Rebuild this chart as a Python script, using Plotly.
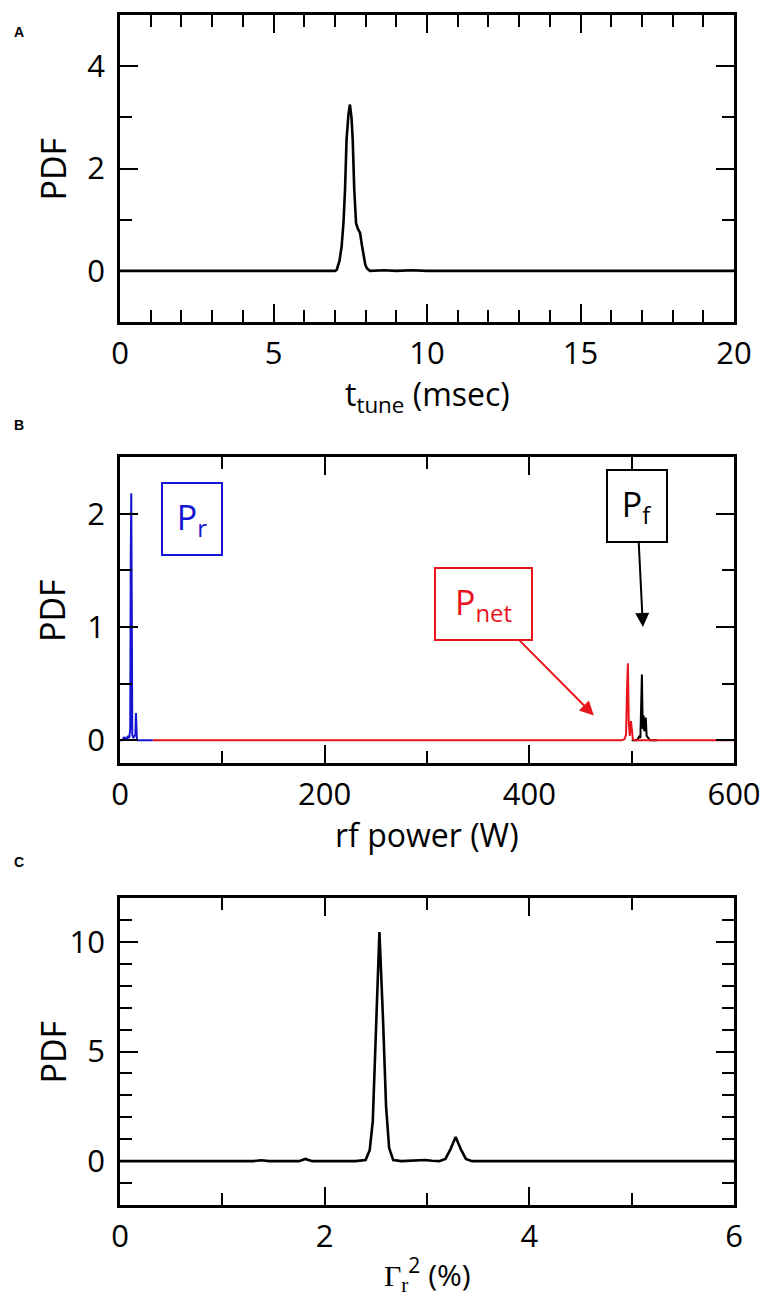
import plotly.graph_objects as go

# ---------------- data ----------------
# Panel A: PDF of t_tune (msec)
a_x = [0, 5, 7.0, 7.06, 7.15, 7.22, 7.28, 7.33, 7.38, 7.44, 7.49, 7.54, 7.58, 7.63, 7.69, 7.75, 7.82, 7.88, 7.93, 7.99, 8.04, 8.14, 8.6, 9.0, 9.5, 10, 12, 15, 20]
a_y = [0, 0, 0, 0.02, 0.2, 0.48, 0.95, 1.59, 2.57, 3.05, 3.25, 3.0, 2.57, 1.59, 0.93, 0.82, 0.74, 0.5, 0.28, 0.12, 0.05, 0, 0.01, 0, 0.01, 0, 0, 0, 0]

# Panel B: PDF of rf power (W)
pr_x = [0, 2, 3, 4, 5, 6, 7, 8, 9, 10, 10.5, 11, 11.5, 12, 13, 14, 15, 15.6, 16, 16.5, 17, 20, 25, 32]
pr_y = [0, 0, 0.01, 0.03, 0.0, 0.03, 0.01, 0.04, 0.02, 0.1, 1.6, 2.18, 1.2, 0.05, 0.02, 0.04, 0.05, 0.24, 0.05, 0.01, 0, 0, 0, 0]

pnet_x = [32, 490, 493, 494.5, 495.5, 496.3, 497.2, 498.2, 499.3, 500.3, 501.2, 502.5, 600]
pnet_y = [0, 0, 0.01, 0.05, 0.45, 0.68, 0.15, 0.04, 0.17, 0.06, 0.01, 0, 0]

pf_x = [500, 505, 506.5, 507.5, 508.5, 509.3, 510.0, 510.8, 511.6, 512.3, 513.0, 513.8, 514.6, 515.5, 516.5, 518, 525]
pf_y = [0, 0, 0.02, 0.04, 0.02, 0.35, 0.58, 0.1, 0.22, 0.08, 0.12, 0.2, 0.04, 0.03, 0.01, 0, 0]

# Panel C: PDF of Gamma_r^2 (%)
c_x = [0, 1.3, 1.38, 1.46, 1.75, 1.81, 1.88, 2.3, 2.40, 2.44, 2.47, 2.50, 2.535, 2.57, 2.60, 2.63, 2.67, 2.75, 2.9, 2.98, 3.05, 3.12, 3.18, 3.23, 3.28, 3.33, 3.38, 3.44, 3.6, 6]
c_y = [0, 0, 0.04, 0, 0, 0.1, 0, 0, 0.05, 0.5, 1.8, 5.5, 10.45, 6.5, 2.5, 0.6, 0.05, 0, 0.02, 0.05, 0.02, 0, 0.1, 0.55, 1.1, 0.55, 0.1, 0, 0, 0]

# ---------------- figure ----------------
W, H = 765, 1310
FONT = "Open Sans"
TICKSZ = 31
RED = "#e8141c"
BLUE = "#1414d2"

fig = go.Figure()
fig.add_trace(go.Scatter(x=a_x, y=a_y, mode="lines", line=dict(color="black", width=2.6),
                         xaxis="x", yaxis="y", showlegend=False))
fig.add_trace(go.Scatter(x=pf_x, y=pf_y, mode="lines", line=dict(color="black", width=2),
                         xaxis="x2", yaxis="y2", showlegend=False))
fig.add_trace(go.Scatter(x=pnet_x, y=pnet_y, mode="lines", line=dict(color=RED, width=2),
                         xaxis="x2", yaxis="y2", showlegend=False))
fig.add_trace(go.Scatter(x=pr_x, y=pr_y, mode="lines", line=dict(color=BLUE, width=2),
                         xaxis="x2", yaxis="y2", showlegend=False))
fig.add_trace(go.Scatter(x=c_x, y=c_y, mode="lines", line=dict(color="black", width=2.6),
                         xaxis="x3", yaxis="y3", showlegend=False))

xd = [120 / W, 734 / W]


def yd(top, bot):
    return [1 - bot / H, 1 - top / H]


def xax(rng, dtick, minor_dtick, anchor):
    return dict(domain=xd, range=rng, anchor=anchor, dtick=dtick, tick0=0, automargin=False,
                showline=True, linecolor="black", linewidth=2.5, mirror="allticks",
                ticks="inside", ticklen=18, tickwidth=2, tickcolor="black",
                minor=dict(dtick=minor_dtick, tick0=0, ticks="inside", ticklen=12, tickwidth=2, tickcolor="black"),
                showgrid=False, zeroline=False, ticklabelstandoff=2,
                tickfont=dict(family=FONT, size=TICKSZ, color="black"))


def yax(rng, dtick, minor_dtick, anchor, dom):
    return dict(domain=dom, range=rng, anchor=anchor, dtick=dtick, tick0=0, automargin=False,
                showline=True, linecolor="black", linewidth=2.5, mirror="allticks",
                ticks="inside", ticklen=18, tickwidth=2, tickcolor="black",
                minor=dict(dtick=minor_dtick, tick0=0, ticks="inside", ticklen=12, tickwidth=2, tickcolor="black"),
                showgrid=False, zeroline=False, ticklabelstandoff=6,
                tickfont=dict(family=FONT, size=TICKSZ, color="black"))


fig.update_layout(
    template="none",
    width=W, height=H, autosize=False, margin=dict(l=0, r=0, t=0, b=0, autoexpand=False),
    paper_bgcolor="white", plot_bgcolor="white",
    font=dict(family=FONT, color="black"),
    xaxis=xax([0, 20], 5, 1, "y"),
    yaxis=yax([-1, 5], 2, 1, "x", yd(15, 322)),
    xaxis2=xax([0, 600], 200, 100, "y2"),
    yaxis2=yax([-0.2, 2.5], 1, 0.5, "x2", yd(457, 763)),
    xaxis3=xax([0, 6], 2, 1, "y3"),
    yaxis3=yax([-2, 12], 5, 1, "x3", yd(898, 1205)),
)

ann = []
# panel letters
for lab, yy in [("A", 32), ("B", 425), ("C", 862)]:
    ann.append(dict(text="<b>%s</b>" % lab, x=19 / W, y=1 - yy / H, xref="paper", yref="paper",
                    showarrow=False, font=dict(family="Liberation Sans", size=14, color="black"),
                    xanchor="center", yanchor="middle"))
# y titles
for top, bot in [(15, 322), (457, 763), (898, 1205)]:
    ann.append(dict(text="PDF", x=52 / W, y=1 - (top + bot) / 2 / H, xref="paper", yref="paper",
                    showarrow=False, textangle=-90, font=dict(family=FONT, size=34, color="black"),
                    xanchor="center", yanchor="middle"))
# x titles
xc = (120 + 734) / 2 / W
ann.append(dict(text="t<sub>tune</sub> (msec)", x=xc, y=1 - 396 / H, xref="paper", yref="paper",
                showarrow=False, font=dict(family=FONT, size=32, color="black"),
                xanchor="center", yanchor="middle"))
ann.append(dict(text="rf power (W)", x=xc, y=1 - 834 / H, xref="paper", yref="paper",
                showarrow=False, font=dict(family=FONT, size=32, color="black"),
                xanchor="center", yanchor="middle"))
ann.append(dict(text='<span style="font-family:Liberation Serif">Γ<sub>r</sub></span><sup>2</sup> (%)',
                x=xc, y=1 - 1274 / H, xref="paper", yref="paper",
                showarrow=False, font=dict(family=FONT, size=30, color="black"),
                xanchor="center", yanchor="middle"))

# boxed labels in panel B
ann.append(dict(text="P<sub>r</sub>", x=70.7, y=1.95, xref="x2", yref="y2", showarrow=False,
                font=dict(family=FONT, size=34, color=BLUE),
                bordercolor=BLUE, borderwidth=2, borderpad=0, width=58, height=70,
                bgcolor="rgba(255,255,255,0)"))
ann.append(dict(text="P<sub>f</sub>", x=511, y=1.0, xref="x2", yref="y2", showarrow=True,
                ax=-6, ay=-121, axref="pixel", ayref="pixel",
                arrowhead=2, arrowsize=1.4, arrowwidth=2, arrowcolor="black",
                font=dict(family=FONT, size=34, color="black"),
                bordercolor="black", borderwidth=2, borderpad=0, width=58, height=70,
                bgcolor="white"))
ann.append(dict(text="P<sub>net</sub>", x=463, y=0.22, xref="x2", yref="y2", showarrow=True,
                ax=-110, ay=-111, axref="pixel", ayref="pixel",
                arrowhead=2, arrowsize=1.4, arrowwidth=2, arrowcolor=RED,
                font=dict(family=FONT, size=34, color=RED),
                bordercolor=RED, borderwidth=2, borderpad=0, width=95, height=70,
                bgcolor="white"))

fig.update_layout(annotations=ann)

post = "document.body.style.margin='0';document.body.style.overflow='hidden';"
fig.write_html("out.html", post_script=post, config={"displayModeBar": False})
